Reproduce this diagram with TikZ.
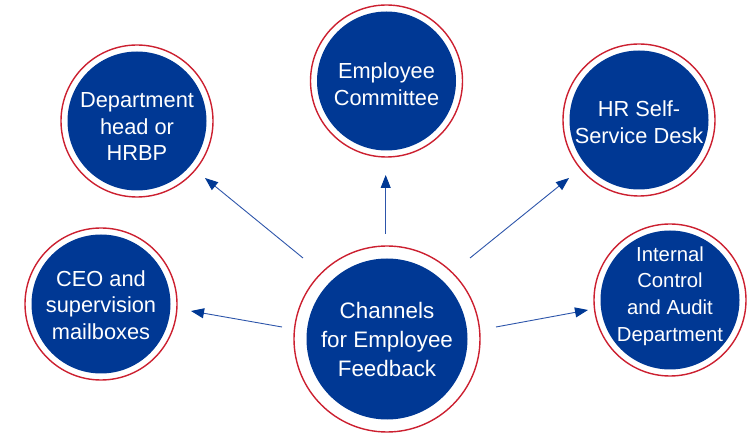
\documentclass[tikz,border=0pt]{standalone}
\usepackage{fontspec}
\setmainfont{Liberation Sans}
\usetikzlibrary{arrows.meta}
\definecolor{navy}{RGB}{0,56,148}
\definecolor{ringred}{RGB}{204,32,48}
\definecolor{arrowblue}{RGB}{45,85,170}
\begin{document}
\begin{tikzpicture}[x=1pt,y=-1pt,
  ring/.style={circle, draw=ringred, line width=1.4pt, fill=white, minimum size=152pt, inner sep=0pt},
  bigring/.style={ring, minimum size=186pt},
  disc/.style={circle, fill=navy, minimum size=139pt, inner sep=0pt},
  bigdisc/.style={disc, minimum size=161pt},
  lbl/.style={text=white, align=center, inner sep=0pt, font=\fontsize{21.8}{26.5}\selectfont},
  smalllbl/.style={lbl, font=\fontsize{20.3}{26.7}\selectfont},
  biglbl/.style={lbl, font=\fontsize{22.4}{29}\selectfont},
  conn/.style={draw=arrowblue, line width=0.9pt, -{Triangle[length=13pt,width=10pt,color=navy]}}]
\useasboundingbox (0,0) rectangle (755,435);
% centre
\node[bigring] (cr) at (387,339) {};
\node[bigdisc] (cd) at (387,339) {};
\node[biglbl] (ct) at (387,339) {Channels\\for Employee\\Feedback};
% top-left
\node[ring] (tlr) at (137,121) {};
\node[disc] (tld) at (137,121) {};
\node[lbl] (tlt) at (137,127) {Department\\head or\\HRBP};
% top centre
\node[ring] (tcr) at (386.5,81) {};
\node[disc] (tcd) at (386.5,81) {};
\node[lbl] (tct) at (386.5,84) {Employee\\Committee};
% top-right
\node[ring] (trr) at (639,120) {};
\node[disc] (trd) at (639,120) {};
\node[lbl] (trt) at (639,122) {HR Self-\\Service Desk};
% mid-left
\node[ring] (mlr) at (101,304) {};
\node[disc] (mld) at (101,304) {};
\node[lbl] (mlt) at (101,305) {CEO and\\supervision\\mailboxes};
% mid-right
\node[ring] (mrr) at (670,300) {};
\node[disc] (mrd) at (670,300) {};
\node[smalllbl] (mrt) at (670,296) {Internal\\Control\\and Audit\\Department};
% arrows
\coordinate (a1s) at (303,258); \coordinate (a1e) at (205,178);
\coordinate (a2s) at (385.7,234); \coordinate (a2e) at (385.7,175);
\coordinate (a3s) at (470,258); \coordinate (a3e) at (569,178);
\coordinate (a4s) at (282,327); \coordinate (a4e) at (191,311);
\coordinate (a5s) at (496,327); \coordinate (a5e) at (588,310);
\draw[conn] (a1s) -- (a1e);
\draw[conn] (a2s) -- (a2e);
\draw[conn] (a3s) -- (a3e);
\draw[conn] (a4s) -- (a4e);
\draw[conn] (a5s) -- (a5e);
\end{tikzpicture}
\end{document}
